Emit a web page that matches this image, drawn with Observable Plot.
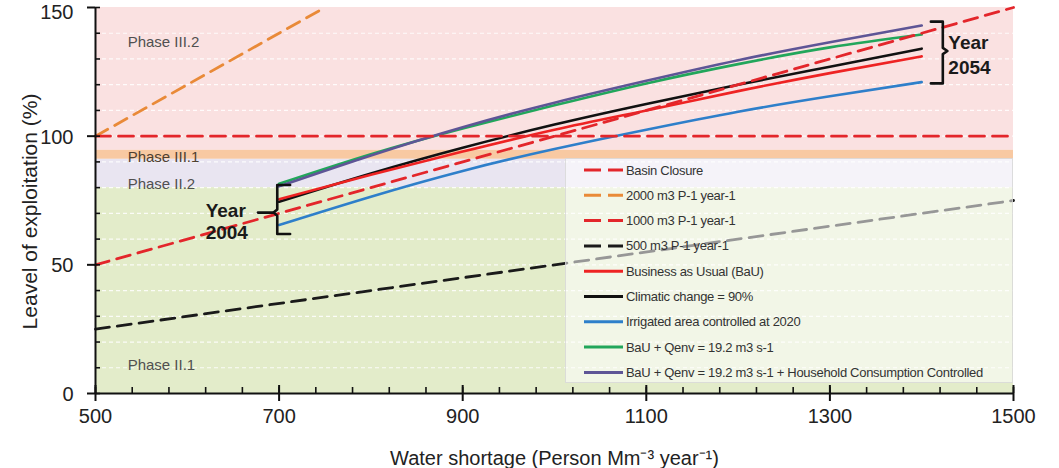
<!DOCTYPE html>
<html>
<head>
<meta charset="utf-8">
<script src="https://cdn.jsdelivr.net/npm/d3@7"></script>
<script src="https://cdn.jsdelivr.net/npm/@observablehq/plot@0.6"></script>
<style>
  html, body { margin: 0; padding: 0; background: #fff; }
  #wrap { position: relative; width: 1059px; height: 468px; overflow: hidden; font-family: "Liberation Sans", Arial, sans-serif; }
  #legend { position: absolute; left: 565px; top: 158px; width: 448px; height: 225px;
            background: rgba(255,255,255,0.55); border: 1px solid rgba(210,210,210,0.7); box-sizing: border-box; }
</style>
</head>
<body>
<div id="wrap"></div>
<script>
// ---- data ----
const waterShortage = [700, 800, 900, 1000, 1100, 1200, 1300, 1400];
const bau        = [75.5, 85.0, 94.0, 102.5, 110.0, 117.5, 124.5, 131.0];
const climate    = [74.5, 85.5, 95.5, 104.5, 112.5, 120.0, 127.0, 134.0];
const irrigated  = [65.5, 76.5, 86.5, 95.0, 102.5, 109.5, 115.5, 121.0];
const qenv       = [81.5, 93.0, 103.0, 112.0, 120.5, 128.0, 134.5, 139.5];
const household  = [80.5, 92.5, 103.5, 113.0, 121.5, 129.5, 136.5, 143.0];

const basinX = [500, 1500],  basinY = [100, 100];
const m2000X = [500, 750],   m2000Y = [100, 150];
const m1000X = [500, 1500],  m1000Y = [50, 150];
const m500X  = [500, 1500],  m500Y  = [25, 75];

const xTicks = [500, 700, 900, 1100, 1300, 1500];
const yTicks = [0, 50, 100, 150];
const yTopTick = [150];

const phaseNames = ["Phase III.2", "Phase III.1", "Phase II.2", "Phase II.1"];
const phaseY1    = [94.5, 91, 80, 0];
const phaseY2    = [150, 94.5, 91, 80];
const phaseFill  = ["#fae1e1", "#f8c9a2", "#e9e5f1", "#e3ecca"];
const phaseLabelY = [136.5, 91.8, 81.5, 11];
const phaseLabelColor = ["#505050", "#4f4030", "#505050", "#505050"];

const legendLabels = ["Basin Closure", "2000 m3 P-1 year-1", "1000 m3 P-1 year-1", "500 m3 P-1 year-1",
  "Business as Usual (BaU)", "Climatic change = 90%", "Irrigated area controlled at 2020",
  "BaU + Qenv = 19.2 m3 s-1", "BaU + Qenv = 19.2 m3 s-1 + Household Consumption Controlled"];
const legendColors = ["#e3262b", "#e98a38", "#e3262b", "#1a1a1a", "#ee2323", "#111111", "#2e7fca", "#22a65b", "#5e5596"];
const legendDashed = [true, true, true, true, false, false, false, false, false];

const annText = ["Year", "2004", "Year", "2054"];
const annX = [620, 620, 1429, 1429];
const annY = [71.0, 62.4, 136.2, 126.5];

// braces (annotation shapes, in data units)
const brace2004X = [712, 698, 698, 694, 698, 698, 712];
const brace2004Y = [81, 81, 71.5, 70.3, 69.1, 62, 62];
const pointer2004X = [677, 694], pointer2004Y = [70.3, 70.3];
const brace2054X = [1410, 1423, 1423, 1428, 1423, 1423, 1410];
const brace2054Y = [144.5, 144.5, 134.3, 133.1, 131.9, 120.5, 120.5];

// ---- build ----
const bands = phaseNames.map((n, i) => ({n, y1: phaseY1[i], y2: phaseY2[i], fill: phaseFill[i]}));
const seriesLine = (ys, color, w = 2.6) =>
  Plot.line(waterShortage.map((x, i) => ({x, y: ys[i]})), {x: "x", y: "y", stroke: color, strokeWidth: w, curve: "natural"});
const pts = (xs, ys) => xs.map((x, i) => ({x, y: ys[i]}));

const plot = Plot.plot({
  width: 1059, height: 468,
  marginLeft: 95, marginRight: 46, marginTop: 7, marginBottom: 75,
  x: {domain: [500, 1500]},
  y: {domain: [0, 150]},
  style: {fontFamily: "'Liberation Sans', Arial, sans-serif", color: "#222", background: "white", overflow: "visible"},
  marks: [
    Plot.rect(bands, {x1: 500, x2: 1500, y1: "y1", y2: "y2", fill: "fill"}),
    Plot.ruleY(d3.range(10, 150, 10), {stroke: "white", strokeOpacity: 0.85, strokeDasharray: "4,3", strokeWidth: 1.2}),
    Plot.text(phaseNames.map((n, i) => ({n, y: phaseLabelY[i], c: phaseLabelColor[i]})), {x: 535, y: "y", text: "n", textAnchor: "start", fontSize: 15, fill: "c"}),
    seriesLine(irrigated, legendColors[6]),
    seriesLine(climate, legendColors[5]),
    seriesLine(bau, legendColors[4]),
    seriesLine(qenv, legendColors[7]),
    seriesLine(household, legendColors[8]),
    Plot.line(pts(m500X, m500Y), {x: "x", y: "y", stroke: legendColors[3], strokeWidth: 2.8, strokeDasharray: "14,8"}),
    Plot.line(pts(m1000X, m1000Y), {x: "x", y: "y", stroke: legendColors[2], strokeWidth: 2.8, strokeDasharray: "14,8"}),
    Plot.line(pts(m2000X, m2000Y), {x: "x", y: "y", stroke: legendColors[1], strokeWidth: 2.8, strokeDasharray: "14,8"}),
    Plot.line(pts(basinX, basinY), {x: "x", y: "y", stroke: legendColors[0], strokeWidth: 2.8, strokeDasharray: "15,8"}),
    Plot.line(pts(brace2004X, brace2004Y), {x: "x", y: "y", stroke: "#111", strokeWidth: 2.6}),
    Plot.line(pts(pointer2004X, pointer2004Y), {x: "x", y: "y", stroke: "#111", strokeWidth: 2.6}),
    Plot.line(pts(brace2054X, brace2054Y), {x: "x", y: "y", stroke: "#111", strokeWidth: 2.6}),
    Plot.text(annText.map((t, i) => ({t, x: annX[i], y: annY[i]})), {x: "x", y: "y", text: "t", textAnchor: "start", fontSize: 19, fontWeight: "bold", fill: "#1a1a1a"}),
    Plot.ruleX([500], {stroke: "#111", strokeWidth: 2}),
    Plot.ruleY([0], {stroke: "#111", strokeWidth: 2}),
    Plot.axisY(yTicks, {tickSize: 8, text: null, label: null, strokeWidth: 2, stroke: "#111"}),
    Plot.axisY(yTicks.filter(d => d !== 150), {tickSize: 0, tickPadding: 22, fontSize: 20, dy: 1, label: null, tickFormat: d => String(d)}),
    Plot.axisY(yTopTick, {tickSize: 0, tickPadding: 22, fontSize: 20, dy: 5, label: null, tickFormat: d => String(d)}),
    Plot.axisY(d3.range(0, 151, 10), {tickSize: -5, text: null, label: null, strokeWidth: 1.6, stroke: "#111"}),
    Plot.axisX(xTicks, {tickSize: 8, tickPadding: 7, fontSize: 20, label: null, strokeWidth: 2, stroke: "#111", tickFormat: d => String(d)}),
    Plot.axisX(xTicks, {tickSize: -8, text: null, label: null, strokeWidth: 2, stroke: "#111"}),
    Plot.axisX(d3.range(500, 1501, 40), {tickSize: -6, text: null, label: null, strokeWidth: 1.6, stroke: "#111"}),
    Plot.text(["Leavel of exploitation (%)"], {frameAnchor: "left", dx: -65, dy: 11, rotate: -90, textAnchor: "middle", fontSize: 21, fill: "#222"}),
    Plot.text(["Water shortage (Person Mm\u207B\u00B3 year\u207B\u00B9)"], {frameAnchor: "bottom", dy: 71, textAnchor: "middle", fontSize: 20, fill: "#222"})
  ]
});

const wrap = document.getElementById("wrap");
wrap.appendChild(plot);

// legend overlay
const leg = document.createElement("div");
leg.id = "legend";
wrap.appendChild(leg);
const lsvg = d3.select(leg).append("svg").attr("width", 448).attr("height", 225);
legendLabels.forEach((lab, i) => {
  const cy = 11 + i * 25.3;
  lsvg.append("line").attr("x1", 18).attr("x2", 57).attr("y1", cy).attr("y2", cy)
    .attr("stroke", legendColors[i]).attr("stroke-width", 3)
    .attr("stroke-dasharray", legendDashed[i] ? "17,7" : null);
  lsvg.append("text").attr("x", 60).attr("y", cy).attr("dy", "0.35em")
    .attr("font-size", 13).attr("fill", "#333").attr("letter-spacing", "-0.3")
    .attr("font-family", "'Liberation Sans', Arial, sans-serif").text(lab);
});
</script>
</body>
</html>
